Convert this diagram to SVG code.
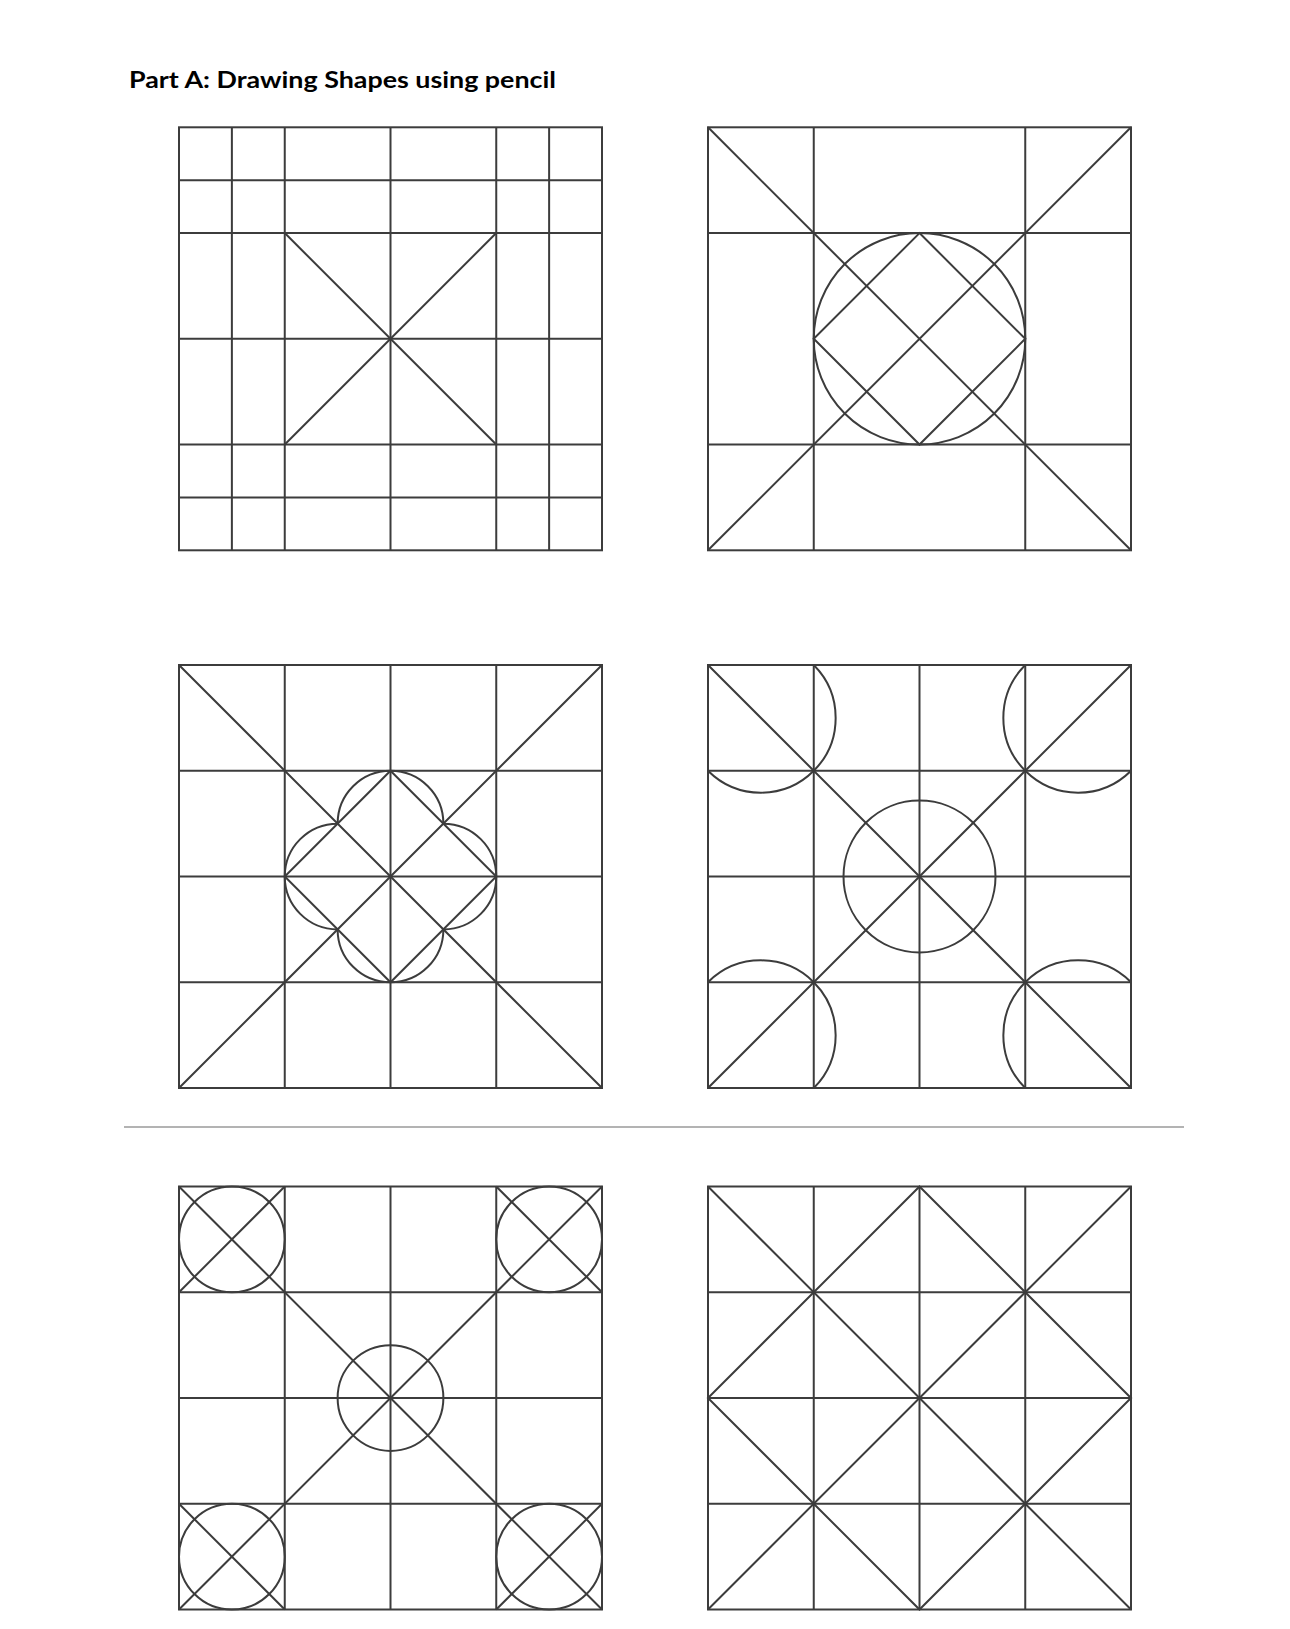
<svg xmlns="http://www.w3.org/2000/svg" width="1290" height="1629" viewBox="0 0 1290 1629">
  <style>
    .s { fill: none; stroke: #3c3c3c; stroke-width: 2; }
    .title { font-family: Lato, "Open Sans", "Liberation Sans", sans-serif; font-weight: bold; font-size: 23px; fill: #000; }
    .sep { stroke: #9a9a9a; stroke-width: 1.5; }
  </style>
  <defs>
    <clipPath id="boxclip"><rect x="0" y="0" width="423" height="423"/></clipPath>
    <path id="grid4" d="M105.75,0V423M211.5,0V423M317.25,0V423M0,105.75H423M0,211.5H423M0,317.25H423"/>
    <path id="diag" d="M0,0L423,423M423,0L0,423"/>
  </defs>
  <rect x="0" y="0" width="1290" height="1629" fill="#fff"/>
  <text class="title" x="129" y="88" textLength="427" lengthAdjust="spacingAndGlyphs">Part A: Drawing Shapes using pencil</text>

  <g id="shape1" class="s" transform="translate(179,127.3)">
    <rect x="0" y="0" width="423" height="423"/>
    <path d="M52.875,0V423M105.75,0V423M211.5,0V423M317.25,0V423M370.125,0V423M0,52.875H423M0,105.75H423M0,211.5H423M0,317.25H423M0,370.125H423"/>
    <path d="M105.75,105.75L317.25,317.25M317.25,105.75L105.75,317.25"/>
  </g>

  <g id="shape2" class="s" transform="translate(708,127.3)">
    <rect x="0" y="0" width="423" height="423"/>
    <path d="M105.75,0V423M317.25,0V423M0,105.75H423M0,317.25H423"/>
    <use href="#diag"/>
    <circle cx="211.5" cy="211.5" r="105.75"/>
    <polygon points="211.5,105.75 317.25,211.5 211.5,317.25 105.75,211.5"/>
  </g>

  <g id="shape3" class="s" transform="translate(179,665)">
    <rect x="0" y="0" width="423" height="423"/>
    <use href="#grid4"/>
    <use href="#diag"/>
    <polygon points="211.5,105.75 317.25,211.5 211.5,317.25 105.75,211.5"/>
    <path d="M158.625,158.625A52.875,52.875 0 0 1 264.375,158.625A52.875,52.875 0 0 1 264.375,264.375A52.875,52.875 0 0 1 158.625,264.375A52.875,52.875 0 0 1 158.625,158.625Z"/>
  </g>

  <g id="shape4" class="s" transform="translate(708,665)">
    <rect x="0" y="0" width="423" height="423"/>
    <use href="#grid4"/>
    <use href="#diag"/>
    <circle cx="211.5" cy="211.5" r="76"/>
    <g clip-path="url(#boxclip)">
      <circle cx="52.875" cy="52.875" r="74.78"/>
      <circle cx="370.125" cy="52.875" r="74.78"/>
      <circle cx="52.875" cy="370.125" r="74.78"/>
      <circle cx="370.125" cy="370.125" r="74.78"/>
    </g>
  </g>

  <line id="separator" class="sep" x1="124" y1="1127" x2="1184" y2="1127"/>

  <g id="shape5" class="s" transform="translate(179,1186.5)">
    <rect x="0" y="0" width="423" height="423"/>
    <use href="#grid4"/>
    <use href="#diag"/>
    <path d="M0,105.75L105.75,0M317.25,0L423,105.75M0,317.25L105.75,423M317.25,423L423,317.25"/>
    <circle cx="52.875" cy="52.875" r="52.875"/>
    <circle cx="370.125" cy="52.875" r="52.875"/>
    <circle cx="52.875" cy="370.125" r="52.875"/>
    <circle cx="370.125" cy="370.125" r="52.875"/>
    <circle cx="211.5" cy="211.5" r="52.875"/>
  </g>

  <g id="shape6" class="s" transform="translate(708,1186.5)">
    <rect x="0" y="0" width="423" height="423"/>
    <use href="#grid4"/>
    <use href="#diag"/>
    <polygon points="211.5,0 423,211.5 211.5,423 0,211.5"/>
  </g>
</svg>
